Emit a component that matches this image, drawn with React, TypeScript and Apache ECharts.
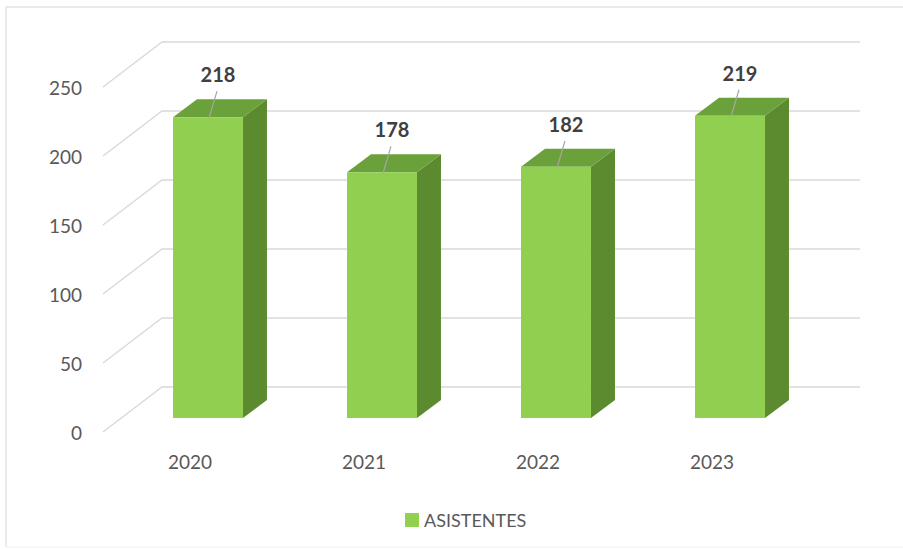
import React, { useEffect, useRef } from "react";
import * as echarts from "echarts";

const categories = ["2020", "2021", "2022", "2023"];
const asistentes = [218, 178, 182, 219];
const yTicks = [0, 50, 100, 150, 200, 250];
const seriesName = "ASISTENTES";

const FONT = "Lato, 'Open Sans', 'DejaVu Sans', sans-serif";
const DEPTH_X = 59;
const DEPTH_Y = -45;
const FRONT_X = 18;
const FRONT_Y = -14;
const BAR_DX = 24;
const BAR_DY = -18;

export default function App() {
  const ref = useRef<HTMLDivElement>(null);
  useEffect(() => {
    if (!ref.current) return;
    const chart = echarts.init(ref.current, undefined, { renderer: "svg" });
    const option: any = {
      animation: false,
      backgroundColor: "#ffffff",
      grid: { left: 103, right: 104, top: 87, bottom: 117 },
      legend: {
        data: [seriesName],
        left: 400,
        top: 506,
        icon: "rect",
        itemWidth: 14,
        itemHeight: 14,
        itemGap: 10,
        textStyle: { fontFamily: FONT, fontSize: 18, color: "#595959" },
      },
      xAxis: {
        type: "category",
        data: categories,
        axisLine: { show: false },
        axisTick: { show: false },
        splitLine: { show: false },
        axisLabel: { fontFamily: FONT, fontSize: 19, color: "#595959", margin: 20 },
      },
      yAxis: {
        type: "value",
        min: 0,
        max: 250,
        interval: 50,
        axisLine: { show: false },
        axisTick: { show: false },
        splitLine: { show: false },
        axisLabel: { fontFamily: FONT, fontSize: 19, color: "#595959", margin: 21 },
      },
      graphic: [
        { type: "line", shape: { x1: 6, y1: 7, x2: 903, y2: 7 }, style: { stroke: "#e3e3e3", lineWidth: 1.5 }, silent: true },
        { type: "line", shape: { x1: 6, y1: 7, x2: 6, y2: 547 }, style: { stroke: "#e3e3e3", lineWidth: 1.5 }, silent: true },
        { type: "line", shape: { x1: 6, y1: 547, x2: 903, y2: 547 }, style: { stroke: "#f4f4f4", lineWidth: 1.5 }, silent: true },
      ],
      series: [
        {
          type: "custom",
          name: "grid3d",
          z: 1,
          silent: true,
          data: yTicks.map((t) => [0, t]),
          renderItem: (params: any, api: any) => {
            const v = api.value(1);
            const p = api.coord([0, v]);
            const cs = params.coordSys;
            const left = cs.x;
            const right = cs.x + cs.width;
            const y = p[1];
            return {
              type: "polyline",
              shape: {
                points: [
                  [left, y],
                  [left + DEPTH_X, y + DEPTH_Y],
                  [right + DEPTH_X + 2, y + DEPTH_Y],
                ],
              },
              style: { stroke: "#d9d9d9", lineWidth: 1.4, fill: "none" },
            };
          },
        },
        {
          type: "custom",
          name: seriesName,
          z: 5,
          itemStyle: { color: "#92D050" },
          data: asistentes.map((v, i) => [i, v]),
          renderItem: (params: any, api: any) => {
            const i = api.value(0);
            const v = api.value(1);
            const base = api.coord([i, 0]);
            const topP = api.coord([i, v]);
            const band = api.size([1, 0])[0];
            const hw = band * 0.201;
            const xl = base[0] - hw + FRONT_X;
            const xr = base[0] + hw + FRONT_X;
            const yb = base[1] + FRONT_Y;
            const yt = topP[1] + FRONT_Y;
            const cxFront = base[0] + FRONT_X;
            const lx = cxFront + 10;
            const ly = yt - 43;
            return {
              type: "group",
              children: [
                {
                  type: "polygon",
                  shape: {
                    points: [
                      [xr, yb],
                      [xr, yt],
                      [xr + BAR_DX, yt + BAR_DY],
                      [xr + BAR_DX, yb + BAR_DY],
                    ],
                  },
                  style: { fill: "#5B8A2F" },
                },
                {
                  type: "polygon",
                  shape: {
                    points: [
                      [xl, yt],
                      [xr, yt],
                      [xr + BAR_DX, yt + BAR_DY],
                      [xl + BAR_DX, yt + BAR_DY],
                    ],
                  },
                  style: { fill: "#6BA13A" },
                },
                {
                  type: "rect",
                  shape: { x: xl, y: yt, width: xr - xl, height: yb - yt },
                  style: { fill: "#91CF50" },
                },
                {
                  type: "line",
                  shape: { x1: lx - 1, y1: ly + 17, x2: cxFront + 1, y2: yt + 1 },
                  style: { stroke: "#a6a6a6", lineWidth: 1.2 },
                },
                {
                  type: "text",
                  style: {
                    text: String(v),
                    x: lx,
                    y: ly,
                    align: "center",
                    verticalAlign: "middle",
                    fontFamily: FONT,
                    fontSize: 20,
                    fontWeight: "bold",
                    fill: "#404040",
                  },
                },
              ],
            };
          },
        },
      ],
    };
    chart.setOption(option);
    return () => chart.dispose();
  }, []);
  return (
    <div
      ref={ref}
      style={{ position: "fixed", left: 0, top: 0, width: 903, height: 549 }}
    />
  );
}
